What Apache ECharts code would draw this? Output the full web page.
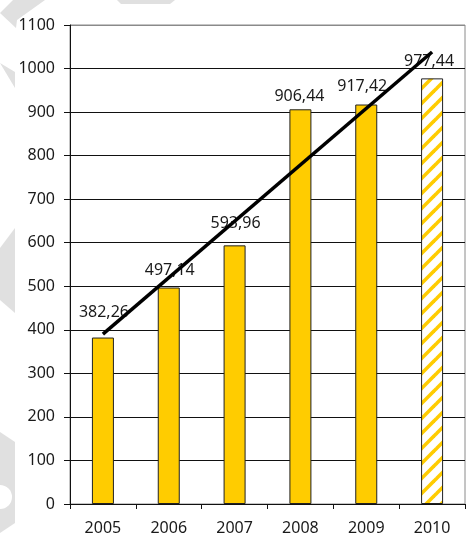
<!DOCTYPE html>
<html>
<head>
<meta charset="utf-8">
<script src="https://cdn.jsdelivr.net/npm/echarts@6/dist/echarts.min.js"></script>
<style>
html,body{margin:0;padding:0;background:#fff;}
#chart{width:466px;height:539px;}
</style>
</head>
<body>
<div id="chart"></div>
<script>
// ---- data ----
var years = ['2005', '2006', '2007', '2008', '2009', '2010'];
var values = [382.26, 497.14, 593.96, 906.44, 917.42, 977.44];
var valueLabels = ['382,26', '497,14', '593,96', '906,44', '917,42', '977,44'];
var trendValues = [390, null, null, null, null, 1038];
var yTicks = { min: 0, max: 1100, step: 100 };

// ---- styling ----
var FONT = '"Noto Sans", sans-serif';
var TEXT = '#1a1a1a';
var YELLOW = '#FFCC00';
var labelShift = [[1, -12], [1, -4], [1, -9], [-1, 0], [-4, -5], [-3, -4]];

function stripePattern() {
  var c = document.createElement('canvas');
  c.width = 15; c.height = 15;
  var g = c.getContext('2d');
  g.fillStyle = '#ffffff';
  g.fillRect(0, 0, 15, 15);
  g.strokeStyle = YELLOW;
  g.lineWidth = 3.6;
  [-15, 0, 15].forEach(function (k) {
    g.beginPath();
    g.moveTo(k - 2, 17);
    g.lineTo(k + 17, -2);
    g.stroke();
  });
  return c;
}
var pattern = stripePattern();

var barData = values.map(function (v, i) {
  var item = {
    value: v,
    label: { formatter: valueLabels[i], offset: labelShift[i] }
  };
  if (i === values.length - 1) {
    item.itemStyle = { color: { image: pattern, repeat: 'repeat' } };
  }
  return item;
});

var splitColors = [];
for (var t = yTicks.min; t <= yTicks.max; t += yTicks.step) {
  splitColors.push(t === yTicks.max ? '#8a8a8a' : '#111111');
}

var chart = echarts.init(document.getElementById('chart'), null, { renderer: 'canvas' });
chart.setOption({
  backgroundColor: '#ffffff',
  animation: false,
  textStyle: { fontFamily: FONT },
  graphic: [
    { type: 'polygon', z: -10, shape: { points: [[0,13],[13,0],[45,0],[17,20],[16,28]] }, style: { fill: '#e0e0e0' } },
    { type: 'polygon', z: -10, shape: { points: [[117,0],[175,0],[170,4],[121,4]] }, style: { fill: '#e0e0e0' } },
    { type: 'polygon', z: -10, shape: { points: [[0,63],[15,72],[15,88]] }, style: { fill: '#e0e0e0' } },
    { type: 'polygon', z: -10, shape: { points: [[0,248],[15,228],[15,313],[0,300]] }, style: { fill: '#e0e0e0' } },
    { type: 'polygon', z: -10, shape: { points: [[0,432],[15,442],[15,523],[0,533]] }, style: { fill: '#e0e0e0' } },
    { type: 'circle', z: -9, shape: { cx: 0, cy: 497, r: 12 }, style: { fill: '#ffffff' } }
  ],
  grid: {
    left: 70, right: 1, top: 25, bottom: 35,
    show: true, borderColor: '#8a8a8a', borderWidth: 1, backgroundColor: 'transparent'
  },
  xAxis: {
    type: 'category',
    data: years,
    boundaryGap: true,
    axisLine: { show: true, lineStyle: { color: '#111', width: 1 } },
    axisTick: { show: true, length: 5, lineStyle: { color: '#111' } },
    axisLabel: { color: TEXT, fontSize: 16, fontFamily: FONT, margin: 16 }
  },
  yAxis: {
    type: 'value',
    min: yTicks.min, max: yTicks.max, interval: yTicks.step,
    axisLine: { show: true, lineStyle: { color: '#111', width: 1 } },
    axisTick: { show: true, length: 6, lineStyle: { color: '#111' } },
    splitLine: { show: true, lineStyle: { color: splitColors, width: 1 } },
    axisLabel: {
      color: TEXT, fontSize: 16, fontFamily: FONT, margin: 15,
      formatter: function (v) { return String(v); }
    }
  },
  series: [
    {
      type: 'bar',
      data: barData,
      barWidth: 22,
      itemStyle: { color: YELLOW, borderColor: '#222', borderWidth: 1 },
      label: {
        show: true, position: 'top', distance: 5,
        color: TEXT, fontSize: 16, fontFamily: FONT
      },
      z: 2
    },
    {
      type: 'line',
      data: trendValues,
      connectNulls: true,
      symbol: 'none',
      lineStyle: { color: '#000', width: 3.5 },
      z: 10,
      silent: true
    }
  ]
});
</script>
</body>
</html>
